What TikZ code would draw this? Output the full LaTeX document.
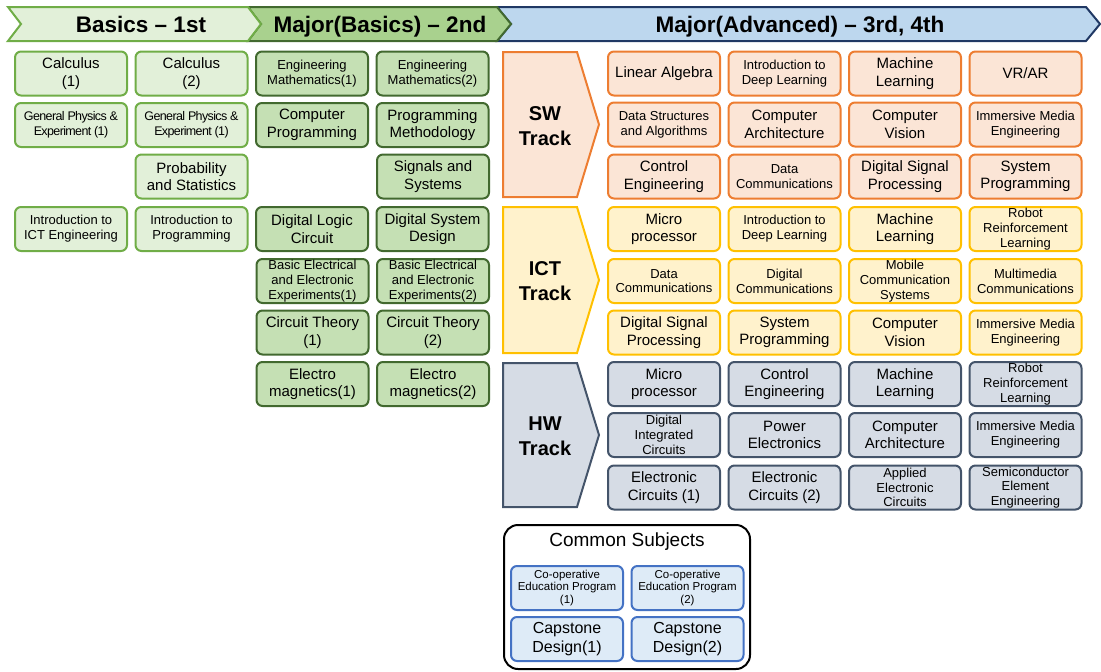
\documentclass[tikz,border=0pt]{standalone}
\usepackage{fontspec}
\setmainfont{Liberation Sans}
\definecolor{basicfill}{HTML}{E2F0D9}
\definecolor{basicline}{HTML}{70AD47}
\definecolor{majfill}{HTML}{C5E0B4}
\definecolor{majline}{HTML}{42692F}
\definecolor{majband}{HTML}{A9D18E}
\definecolor{advfill}{HTML}{BDD7EE}
\definecolor{advline}{HTML}{203864}
\definecolor{swfill}{HTML}{FBE5D6}
\definecolor{swline}{HTML}{ED7D31}
\definecolor{ictfill}{HTML}{FFF2CC}
\definecolor{ictline}{HTML}{FFC000}
\definecolor{hwfill}{HTML}{D6DCE5}
\definecolor{hwline}{HTML}{44546A}
\definecolor{comfill}{HTML}{DEEBF7}
\definecolor{comline}{HTML}{4472C4}
\newcommand{\nsz}{\fontsize{15}{17.5}\selectfont}
\newcommand{\ssz}{\fontsize{13}{14.8}\selectfont}
\newcommand{\tsz}{\fontsize{11.5}{12.7}\selectfont}
\newcommand{\gsz}{\fontsize{12.5}{15}\selectfont\addfontfeature{LetterSpace=-5}}
\newcommand{\hsz}{\fontsize{22.5}{26}\selectfont\bfseries}
\newcommand{\ksz}{\fontsize{20}{25}\selectfont\bfseries}
\begin{document}
\begin{tikzpicture}[x=1pt,y=-1pt,node distance=120.5pt]
\tikzstyle{subj}=[draw,line width=2pt,rounded corners=6pt,minimum width=112pt,
  minimum height=44pt,inner sep=1pt,align=center,font=\nsz]
\tikzstyle{basic}=[subj,draw=basicline,fill=basicfill]
\tikzstyle{major}=[subj,draw=majline,fill=majfill]
\tikzstyle{sw}=[subj,draw=swline,fill=swfill]
\tikzstyle{ict}=[subj,draw=ictline,fill=ictfill]
\tikzstyle{hw}=[subj,draw=hwline,fill=hwfill]
\tikzstyle{com}=[subj,draw=comline,fill=comfill]
\tikzstyle{band}=[line width=2pt,line join=miter]
\tikzstyle{track}=[line width=2pt,line join=miter]
\useasboundingbox (0,0) rectangle (1101,672);
\filldraw[band,draw=advline,fill=advfill] (497,7) -- (1086,7) -- (1100,24) -- (1086,41)
  -- (497,41) -- (511,24) -- cycle;
\filldraw[band,draw=majline,fill=majband] (248,7) -- (497,7) -- (511,24) -- (497,41)
  -- (248,41) -- (261,24) -- cycle;
\filldraw[band,draw=basicline,fill=basicfill] (8,7) -- (248,7) -- (261,24) -- (248,41)
  -- (8,41) -- (21,24) -- cycle;
\node[font=\hsz,anchor=base] (basicshead) at (141,32) {Basics – 1st};
\node[font=\hsz,anchor=base] (majorhead) at (380,32) {Major(Basics) – 2nd};
\node[font=\hsz,anchor=base] (advhead) at (800,32) {Major(Advanced) – 3rd, 4th};
\node[basic] (calc1) at (71,73.5) {Calculus\\(1)};
\node[basic] (calc2) [right of=calc1] {Calculus\\(2)};
\node[major,font=\ssz] (engmath1) [right of=calc2] {Engineering\\Mathematics(1)};
\node[major,font=\ssz] (engmath2) [right of=engmath1] {Engineering\\Mathematics(2)};
\node[basic,font=\gsz] (phys1) at (71,125) {General Physics \&\\Experiment (1)};
\node[basic,font=\gsz] (phys2) [right of=phys1] {General Physics \&\\Experiment (1)};
\node[major] (comprog) [right of=phys2] {Computer\\Programming};
\node[major] (progmeth) [right of=comprog] {Programming\\Methodology};
\node[basic] (prob) at (191.5,176.5) {Probability\\and Statistics};
\node[major] (sigsys) at (433,176.5) {Signals and\\Systems};
\node[basic,font=\ssz] (introict) at (71,229) {Introduction to\\ICT Engineering};
\node[basic,font=\ssz] (introprog) [right of=introict] {Introduction to\\Programming};
\node[major] (diglogic) [right of=introprog] {Digital Logic\\Circuit};
\node[major] (digsys) [right of=diglogic] {Digital System\\Design};
\node[major,font=\ssz] (bee1) at (312.5,281) {Basic Electrical\\and Electronic\\Experiments(1)};
\node[major,font=\ssz] (bee2) [right of=bee1] {Basic Electrical\\and Electronic\\Experiments(2)};
\node[major] (circ1) at (312.5,332.5) {Circuit Theory\\(1)};
\node[major] (circ2) [right of=circ1] {Circuit Theory\\(2)};
\node[major] (em1) at (312.5,384) {Electro\\magnetics(1)};
\node[major] (em2) [right of=em1] {Electro\\magnetics(2)};
\filldraw[track,draw=swline,fill=swfill] (503,52) -- (577,52) -- (599,124.5) -- (577,197)
  -- (503,197) -- cycle;
\filldraw[track,draw=ictline,fill=ictfill] (503,207) -- (577,207) -- (599,280) -- (577,353)
  -- (503,353) -- cycle;
\filldraw[track,draw=hwline,fill=hwfill] (503,363) -- (577,363) -- (599,435) -- (577,507)
  -- (503,507) -- cycle;
\node[font=\ksz,align=center] (swtrack) at (545,126) {SW\\Track};
\node[font=\ksz,align=center] (icttrack) at (545,281) {ICT\\Track};
\node[font=\ksz,align=center] (hwtrack) at (545,436) {HW\\Track};
\node[sw] (linalg) at (664,73.5) {Linear Algebra};
\node[sw,font=\ssz] (deep1) [right of=linalg] {Introduction to\\Deep Learning};
\node[sw] (ml1) [right of=deep1] {Machine\\Learning};
\node[sw] (vrar) [right of=ml1] {VR/AR};
\node[sw,font=\ssz] (dsa) at (664,124.5) {Data Structures\\and Algorithms};
\node[sw] (arch1) [right of=dsa] {Computer\\Architecture};
\node[sw] (vision1) [right of=arch1] {Computer\\Vision};
\node[sw,font=\ssz] (imm1) [right of=vision1] {Immersive Media\\Engineering};
\node[sw] (ctrl1) at (664,176.5) {Control\\Engineering};
\node[sw,font=\ssz] (datacom1) [right of=ctrl1] {Data\\Communications};
\node[sw] (dsp1) [right of=datacom1] {Digital Signal\\Processing};
\node[sw] (sysprog1) [right of=dsp1] {System\\Programming};
\node[ict] (micro1) at (664,229) {Micro\\processor};
\node[ict,font=\ssz] (deep2) [right of=micro1] {Introduction to\\Deep Learning};
\node[ict] (ml2) [right of=deep2] {Machine\\Learning};
\node[ict,font=\ssz] (robot1) [right of=ml2] {Robot\\Reinforcement\\Learning};
\node[ict,font=\ssz] (datacom2) at (664,281) {Data\\Communications};
\node[ict,font=\ssz] (digcom) [right of=datacom2] {Digital\\Communications};
\node[ict,font=\ssz] (mobile) [right of=digcom] {Mobile\\Communication\\Systems};
\node[ict,font=\ssz] (multi) [right of=mobile] {Multimedia\\Communications};
\node[ict] (dsp2) at (664,332.5) {Digital Signal\\Processing};
\node[ict] (sysprog2) [right of=dsp2] {System\\Programming};
\node[ict] (vision2) [right of=sysprog2] {Computer\\Vision};
\node[ict,font=\ssz] (imm2) [right of=vision2] {Immersive Media\\Engineering};
\node[hw] (micro2) at (664,384) {Micro\\processor};
\node[hw] (ctrl2) [right of=micro2] {Control\\Engineering};
\node[hw] (ml3) [right of=ctrl2] {Machine\\Learning};
\node[hw,font=\ssz] (robot2) [right of=ml3] {Robot\\Reinforcement\\Learning};
\node[hw,font=\ssz] (digint) at (664,435) {Digital\\Integrated\\Circuits};
\node[hw] (power) [right of=digint] {Power\\Electronics};
\node[hw] (arch2) [right of=power] {Computer\\Architecture};
\node[hw,font=\ssz] (imm3) [right of=arch2] {Immersive Media\\Engineering};
\node[hw] (elec1) at (664,487.5) {Electronic\\Circuits (1)};
\node[hw] (elec2) [right of=elec1] {Electronic\\Circuits (2)};
\node[hw,font=\ssz] (applied) [right of=elec2] {Applied\\Electronic\\Circuits};
\node[hw,font=\ssz] (semi) [right of=applied] {Semiconductor\\Element\\Engineering};
\node[draw,line width=2pt,rounded corners=14pt,minimum width=246pt,minimum height=144pt,
  fill=white] (common) at (627,597) {};
\node[font=\fontsize{19}{22}\selectfont] (comtitle) at (627,542) {Common Subjects};
\node[com,font=\tsz] (coop1) at (567,588) {Co-operative\\Education Program\\(1)};
\node[com,font=\tsz] (coop2) [right of=coop1] {Co-operative\\Education Program\\(2)};
\node[com,font=\fontsize{16}{18.3}\selectfont] (cap1) at (567,639) {Capstone\\Design(1)};
\node[com,font=\fontsize{16}{18.3}\selectfont] (cap2) [right of=cap1] {Capstone\\Design(2)};
\end{tikzpicture}
\end{document}
